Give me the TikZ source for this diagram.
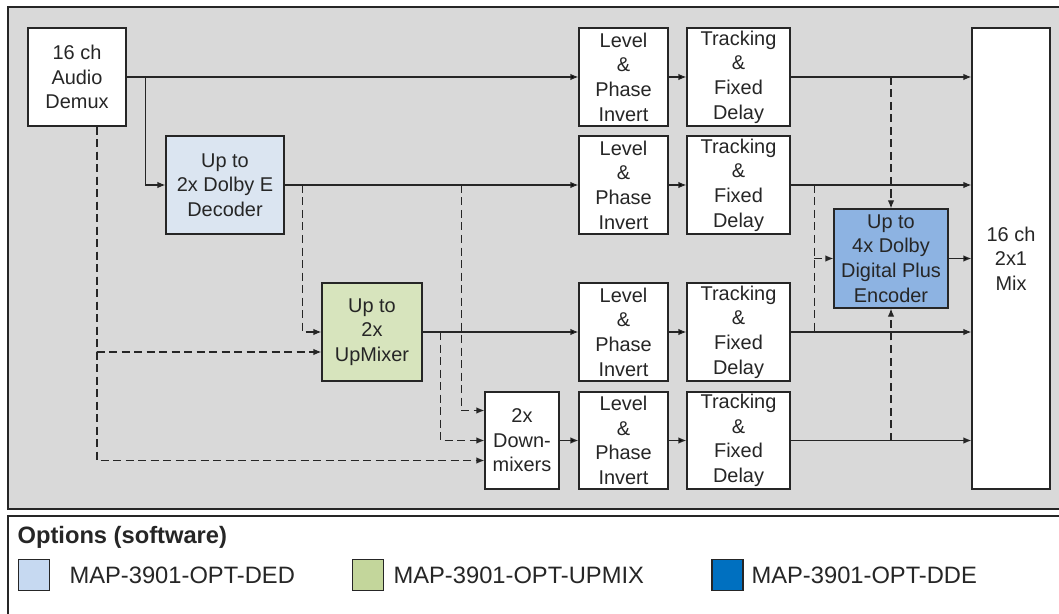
\documentclass[tikz,border=0pt]{standalone}
\usepackage{fontspec}
\setmainfont{Liberation Sans}
\usetikzlibrary{arrows.meta,calc}

\definecolor{bggray}{HTML}{D9D9D9}
\definecolor{dedblue}{HTML}{DBE5F1}
\definecolor{upgreen}{HTML}{D7E4BD}
\definecolor{ddeblue}{HTML}{8DB3E2}
\definecolor{keyblue}{HTML}{C6D9F1}
\definecolor{keygreen}{HTML}{C3D69B}
\definecolor{keydde}{HTML}{0070C0}
\definecolor{edge}{HTML}{262626}
\definecolor{txt}{HTML}{262626}

\begin{document}
\begin{tikzpicture}[x=1bp, y=-1bp, line width=1.2bp,
  >={Latex[length=8bp,width=6.5bp]},
  blk/.style={draw=edge, fill=white, align=center, inner sep=0pt,
    minimum height=98bp, text=txt, font=\fontsize{20}{24.7}\selectfont},
  wire/.style={->, draw=edge},
  dwire/.style={->, draw=edge, dash pattern=on 8bp off 4.5bp},
  key/.style={draw=edge, minimum size=31bp, inner sep=0pt},
  keytext/.style={anchor=west, inner sep=0pt, text=txt,
    font=\fontsize{23.8}{28}\selectfont}]

  \useasboundingbox (0,0) rectangle (1059,614);
  \clip (0,0) rectangle (1059,614);

  % frames
  \draw[draw=edge, fill=bggray] (8,7) rectangle (1070,509);
  \draw[draw=edge, fill=white] (8,516) rectangle (1070,630);

  % input side
  \node[blk, minimum width=98bp]                      (DMX) at (77,77)     {16 ch\\Audio\\Demux};
  \node[blk, minimum width=118bp, fill=dedblue]       (DED) at (225,185)   {Up to\\2x Dolby E\\Decoder};
  \node[blk, minimum width=100bp, fill=upgreen]       (UPM) at (372,332)   {Up to\\2x\\UpMixer};
  \node[blk, minimum width=74bp, minimum height=97bp] (DNM) at (522,440.5) {2x\\Down-\\mixers};

  % channel strips
  \node[blk, minimum width=89bp]  (LP1) at (623.5,77)    {Level\\\&\\Phase\\Invert};
  \node[blk, minimum width=89bp]  (LP2) at (623.5,185)   {Level\\\&\\Phase\\Invert};
  \node[blk, minimum width=89bp]  (LP3) at (623.5,332)   {Level\\\&\\Phase\\Invert};
  \node[blk, minimum width=89bp, minimum height=97bp] (LP4) at (623.5,440.5) {Level\\\&\\Phase\\Invert};
  \node[blk, minimum width=103bp] (TD1) at (738.5,77)    {Tracking\\\&\\Fixed\\Delay};
  \node[blk, minimum width=103bp] (TD2) at (738.5,185)   {Tracking\\\&\\Fixed\\Delay};
  \node[blk, minimum width=103bp] (TD3) at (738.5,332)   {Tracking\\\&\\Fixed\\Delay};
  \node[blk, minimum width=103bp, minimum height=97bp] (TD4) at (738.5,440.5) {Tracking\\\&\\Fixed\\Delay};

  % output side
  \node[blk, minimum width=114bp, minimum height=99bp, fill=ddeblue] (DDE) at (891,258.5)  {Up to\\4x Dolby\\Digital Plus\\Encoder};
  \node[blk, minimum width=78bp, minimum height=461bp]               (MIX) at (1011,258.5) {16 ch\\2x1\\Mix};

  \path[wire] (DMX) edge (LP1)
              (DED) edge (LP2)
              (UPM) edge (LP3)
              (DNM) edge (LP4)
              (LP1) edge (TD1)
              (LP2) edge (TD2)
              (LP3) edge (TD3)
              (LP4) edge (TD4)
              (DDE) edge (MIX);
  \draw[wire] (DMX.east) -- ++(19,0) |- (DED.west);
  \draw[wire] (TD1.east) -- (TD1.east -| MIX.west);
  \draw[wire] (TD2.east) -- (TD2.east -| MIX.west);
  \draw[wire] (TD3.east) -- (TD3.east -| MIX.west);
  \draw[wire] (TD4.east) -- (TD4.east -| MIX.west);

  % optional paths
  \draw[dwire] (DED.east) ++(18,0) |- (UPM.west);
  \draw[dwire] (DMX.south) ++(20,0) |- ($(UPM.west)+(0,20)$);
  \draw[dwire] (DMX.south) ++(20,0) |- ($(DNM.west)+(0,20)$);
  \draw[dwire] (DED.east) ++(177,0) |- ($(DNM.west)+(0,-30)$);
  \draw[dwire] (UPM.east) ++(18,0) |- (DNM.west);
  \draw[dwire] (DDE.north |- TD1.east) -- (DDE.north);
  \draw[dwire] (DDE.south |- TD4.east) -- (DDE.south);
  \draw[dwire, -] ($(TD2.east -| DDE.west)+(-19,0)$) -- ($(TD3.east -| DDE.west)+(-19,0)$);
  \draw[dwire] ($(DDE.west)+(-19,0)$) -- (DDE.west);

  % legend
  \node[keytext, font=\bfseries\fontsize{23.8}{28}\selectfont] (OPT) at (17,537) {Options (software)};
  \node[key, fill=keyblue]  (K1) at (34,575)    {};
  \node[keytext]            (T1) at (69,575)    {MAP-3901-OPT-DED};
  \node[key, fill=keygreen] (K2) at (368,575)   {};
  \node[keytext]            (T2) at (393,575)   {MAP-3901-OPT-UPMIX};
  \node[key, fill=keydde]   (K3) at (727.5,575) {};
  \node[keytext]            (T3) at (751,575)   {MAP-3901-OPT-DDE};
\end{tikzpicture}
\end{document}
